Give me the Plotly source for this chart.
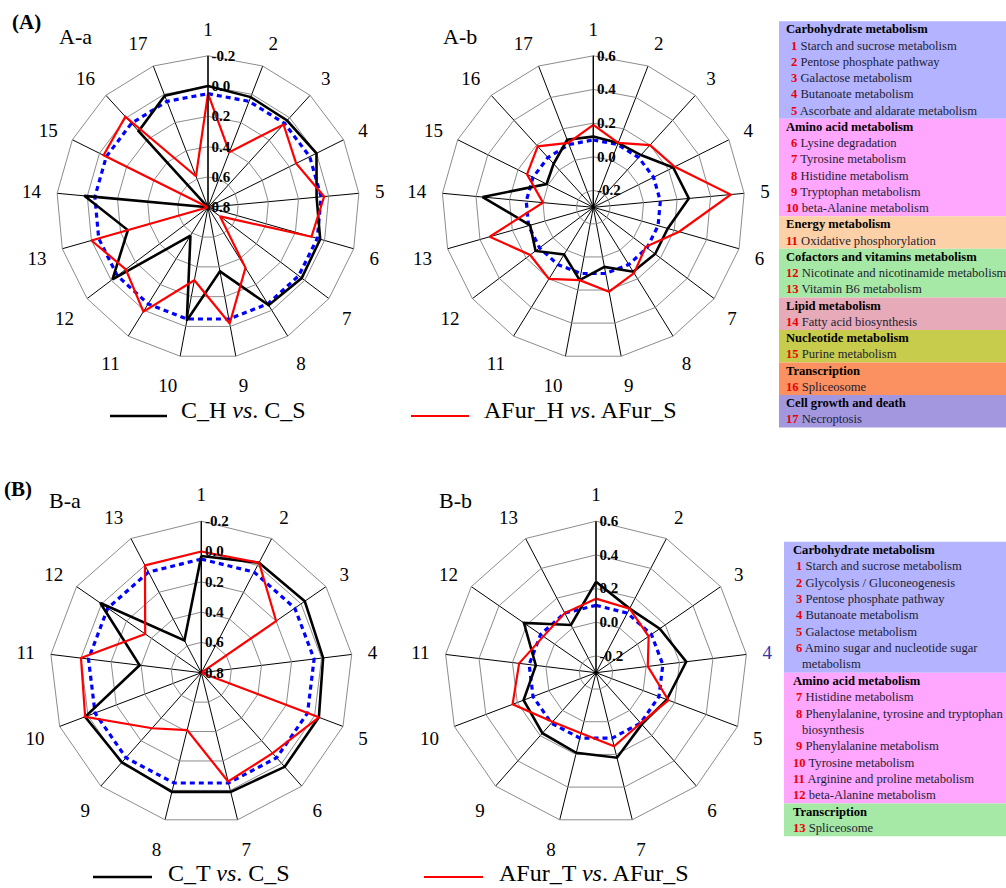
import plotly.graph_objects as go

# ---------------- data ----------------
cats_A = [str(i) for i in range(1, 18)]
cats_B = [str(i) for i in range(1, 14)]

Aa_black = [0.0, 0.02, 0.025, 0.0, 0.08, 0.03, 0.025, 0.04, 0.37, 0.04, 0.58, 0.01, 0.25, -0.02, 0.8, 0.12, 0.01]
Aa_red = [0.05, 0.41, 0.06, 0.15, 0.03, 0.09, 0.70, 0.33, 0.02, 0.31, -0.01, 0.12, 0.0, 0.8, 0.03, -0.01, 0.58]
Ab_black = [0.12, 0.11, 0.12, 0.23, 0.27, 0.16, 0.16, 0.15, 0.06, 0.14, 0.03, 0.13, 0.09, 0.36, 0.01, 0.05, 0.13]
Ab_red = [0.19, 0.11, 0.20, 0.24, 0.52, 0.23, 0.09, 0.16, 0.21, 0.14, 0.20, 0.17, 0.34, 0.0, 0.14, 0.19, 0.11]

Ba_black = [0.03, -0.02, -0.03, -0.01, -0.03, -0.03, -0.01, -0.01, 0.01, -0.02, 0.39, -0.01, 0.56]
Ba_red = [0.0, -0.02, 0.20, 0.8, -0.03, 0.09, 0.06, 0.41, 0.31, -0.02, 0.0, 0.35, 0.0]
Bb_black = [0.24, 0.13, 0.16, 0.24, 0.15, 0.11, 0.22, 0.19, 0.18, 0.16, 0.06, 0.22, 0.02]
Bb_red = [0.14, 0.13, 0.08, 0.01, 0.16, 0.10, 0.15, 0.07, 0.09, 0.23, 0.16, 0.08, 0.10]

p_threshold = 0.05      # blue dotted line, panels "a"
fc_threshold = 0.1      # blue dotted line, panels "b"

ticks_a = [-0.2, 0.0, 0.2, 0.4, 0.6, 0.8]
ticks_b = [-0.2, 0.0, 0.2, 0.4, 0.6]

legend_A = [
    ("Carbohydrate metabolism", "#b3b3ff", [("1", "Starch and sucrose metabolism"), ("2", "Pentose phosphate pathway"),
                                            ("3", "Galactose metabolism"), ("4", "Butanoate metabolism"),
                                            ("5", "Ascorbate and aldarate metabolism")]),
    ("Amino acid metabolism", "#ffa6ff", [("6", "Lysine degradation"), ("7", "Tyrosine metabolism"),
                                          ("8", "Histidine metabolism"), ("9", "Tryptophan metabolism"),
                                          ("10", "beta-Alanine metabolism")]),
    ("Energy metabolism", "#fcd1a7", [("11", "Oxidative phosphorylation")]),
    ("Cofactors and vitamins metabolism", "#a6e8a6", [("12", "Nicotinate and nicotinamide metabolism"),
                                                      ("13", "Vitamin B6 metabolism")]),
    ("Lipid metabolism", "#e6aab8", [("14", "Fatty acid biosynthesis")]),
    ("Nucleotide metabolism", "#c8cc4c", [("15", "Purine metabolism")]),
    ("Transcription", "#fb9060", [("16", "Spliceosome")]),
    ("Cell growth and death", "#a398e0", [("17", "Necroptosis")]),
]
legend_B = [
    ("Carbohydrate metabolism", "#b3b3ff", [("1", "Starch and sucrose metabolism"), ("2", "Glycolysis / Gluconeogenesis"),
                                            ("3", "Pentose phosphate pathway"), ("4", "Butanoate metabolism"),
                                            ("5", "Galactose metabolism"),
                                            ("6", "Amino sugar and nucleotide sugar", "metabolism")]),
    ("Amino acid metabolism", "#ffa6ff", [("7", "Histidine metabolism"),
                                          ("8", "Phenylalanine, tyrosine and tryptophan", "biosynthesis"),
                                          ("9", "Phenylalanine metabolism"), ("10", "Tyrosine metabolism"),
                                          ("11", "Arginine and proline metabolism"), ("12", "beta-Alanine metabolism")]),
    ("Transcription", "#a6e8a6", [("13", "Spliceosome")]),
]

# ---------------- layout helpers ----------------
W, H = 1006, 888
SERIF = "Liberation Serif"
R = 151.5
TFS = 12.6   # side-table font size


def X(px):
    return px / W


def Y(py):
    return 1 - py / H


def dom(cx, cy):
    return dict(x=[X(cx - R), X(cx + R)], y=[Y(cy + R), Y(cy - R)])


fig = go.Figure()


def add_panel(name, cats, black, red, thr, rng, tickvals, cx, cy, ticktext_cat=None):
    th = cats + [cats[0]]
    fig.add_trace(go.Scatterpolar(r=[thr] * len(cats) + [thr], theta=th, mode="lines",
                                  line=dict(color="#0000ff", width=3.2, dash="5px,4px"),
                                  subplot=name, showlegend=False, hoverinfo="skip"))
    fig.add_trace(go.Scatterpolar(r=black + [black[0]], theta=th, mode="lines",
                                  line=dict(color="black", width=2.6), subplot=name, showlegend=False))
    fig.add_trace(go.Scatterpolar(r=red + [red[0]], theta=th, mode="lines",
                                  line=dict(color="#ff0000", width=2.2), subplot=name, showlegend=False))
    ttxt = ["<b>%.1f</b>" % v for v in tickvals]
    fig.update_layout(**{name: dict(
        domain=dom(cx, cy),
        bgcolor="white",
        gridshape="linear",
        radialaxis=dict(range=rng, tickvals=tickvals, ticktext=ttxt, angle=90, side="clockwise", tickangle=90,
                        showline=True, linecolor="black", linewidth=1.2, gridcolor="#8c8c8c", gridwidth=1,
                        ticks="", tickfont=dict(family=SERIF, size=15, color="black"), showgrid=True),
        angularaxis=dict(type="category", categoryarray=cats, rotation=90, direction="clockwise",
                         showline=True, linecolor="#8c8c8c", linewidth=1, gridcolor="black", gridwidth=1.2,
                         ticks="outside", ticklen=12, tickcolor="rgba(0,0,0,0)",
                         tickvals=cats, ticktext=ticktext_cat if ticktext_cat else cats,
                         tickfont=dict(family=SERIF, size=19, color="black")),
    )})


add_panel("polar", cats_A, Aa_black, Aa_red, p_threshold, [0.8, -0.2], ticks_a, 208, 207.3)
add_panel("polar2", cats_A, Ab_black, Ab_red, fc_threshold, [-0.3, 0.6], ticks_b, 593.3, 207.3)
add_panel("polar3", cats_B, Ba_black, Ba_red, p_threshold, [0.8, -0.2], ticks_a, 201.3, 672.7)
bb_tt = [("<span style='color:#3333aa'>%s</span>" % c) if c == "4" else c for c in cats_B]
add_panel("polar4", cats_B, Bb_black, Bb_red, fc_threshold, [-0.3, 0.6], ticks_b, 596, 672.7, bb_tt)

annotations = []
shapes = []


def txt(x, y, s, size, xanchor="left", color="black"):
    annotations.append(dict(x=X(x), y=Y(y), xref="paper", yref="paper", text=s, showarrow=False,
                            xanchor=xanchor, yanchor="middle", font=dict(family=SERIF, size=size, color=color)))


# panel labels
txt(10, 22, "<b>(A)</b>", 21)
txt(57, 36, "A-a", 22)
txt(441, 36, "A-b", 22)
txt(2, 489, "<b>(B)</b>", 21)
txt(47, 501, "B-a", 22)
txt(437, 501, "B-b", 22)


# bottom legends
def leg(x0, x1, y, ty, color, width, label, tx):
    shapes.append(dict(type="line", xref="paper", yref="paper", x0=X(x0), x1=X(x1), y0=Y(y), y1=Y(y),
                       line=dict(color=color, width=width)))
    txt(tx, ty, label, 24)


leg(110, 167, 416, 410, "black", 2.6, "C_H <i>vs</i>. C_S", 179)
leg(411, 469, 416, 410, "#ff0000", 2.2, "AFur_H <i>vs</i>. AFur_S", 482)
leg(93, 152, 877, 873, "black", 2.6, "C_T <i>vs</i>. C_S", 166)
leg(424, 483, 877, 873, "#ff0000", 2.2, "AFur_T <i>vs</i>. AFur_S", 497)


# side tables
def table(groups, x0, top, pitch, hx, nx1, nx2, contx):
    y = top
    for head, col, items in groups:
        nrows = 1 + sum(len(it) - 1 for it in items)
        y0 = y - pitch / 2
        y1 = y0 + pitch * nrows
        shapes.append(dict(type="rect", xref="paper", yref="paper", x0=X(x0), x1=X(W + 2), y0=Y(y1), y1=Y(y0),
                           fillcolor=col, line=dict(width=0), layer="below"))
        txt(hx, y, "<b>" + head + "</b>", TFS)
        y += pitch
        for it in items:
            num, desc = it[0], it[1]
            xx = nx1 if len(num) == 1 else nx2
            txt(xx, y, "<b><span style='color:#ee0000'>%s</span></b> <span style='color:#1e1e32'>%s</span>" % (num, desc), TFS)
            y += pitch
            for extra in it[2:]:
                txt(contx, y, "<span style='color:#1e1e32'>%s</span>" % extra, TFS)
                y += pitch


table(legend_A, 779, 29.3, 16.25, 784, 789, 784, 800)
table(legend_B, 784, 550, 16.35, 791, 794, 791, 800)

fig.update_layout(width=W, height=H, margin=dict(l=0, r=0, t=0, b=0), paper_bgcolor="white",
                  plot_bgcolor="white", annotations=annotations, shapes=shapes, showlegend=False)

fig.write_html("out.html", config={"displayModeBar": False},
               post_script="document.body.style.margin='0';document.body.style.overflow='hidden';")
